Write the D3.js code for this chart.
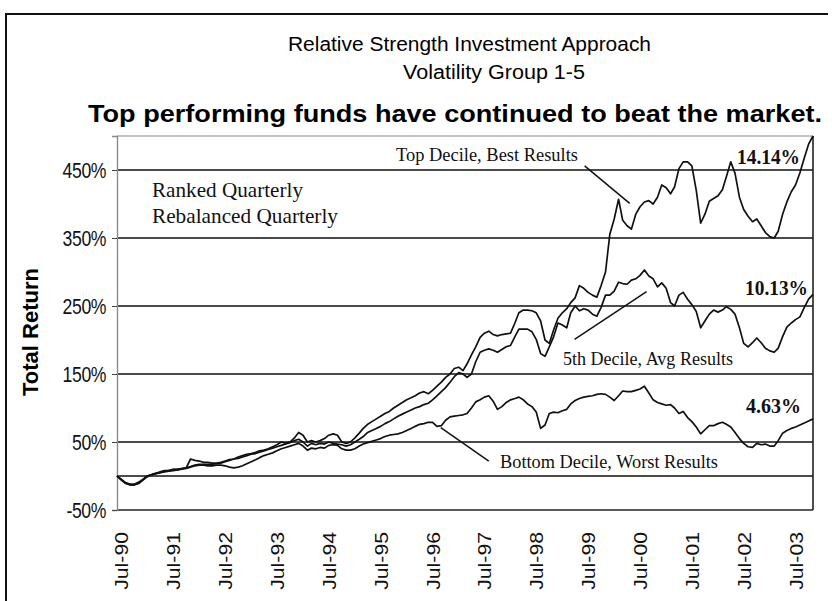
<!DOCTYPE html>
<html>
<head>
<meta charset="utf-8">
<script src="https://cdn.jsdelivr.net/npm/d3@7"></script>
<style>
  body { margin: 0; background: #fff; }
  svg { display: block; }
</style>
</head>
<body>
<div id="vis"></div>
<script>
// monthly total return (%) from Jun-90 to Nov-03
const months = d3.timeMonth.range(new Date(1990, 5, 1), new Date(2003, 11, 1));

const topDecile = [
  0, -5, -10, -13, -13, -10, -5, 0, 2, 4, 6, 8,
  8, 10, 9, 11, 12, 25, 23, 22, 20, 20, 19, 19,
  20, 22, 24, 25, 28, 30, 32, 33, 35, 37, 38, 40,
  43, 46, 50, 48, 50, 56, 64, 60, 50, 52, 50, 52,
  55, 60, 62, 60, 50, 48, 50, 56, 63, 70, 76, 80,
  84, 88, 92, 95, 100, 104, 108, 112, 115, 118, 122, 124,
  121, 126, 132, 138, 145, 150, 158, 160, 155, 165, 178, 190,
  204, 210, 213, 208, 206, 208, 209, 210, 225, 240, 244, 244,
  243, 240, 228, 200, 195, 215, 232, 240, 246, 255, 262, 280,
  276, 270, 266, 263, 280, 300, 355, 378, 407, 376, 368, 363,
  385, 396, 403, 405, 400, 410, 428, 424, 415, 425, 452, 462,
  462, 456, 420, 372, 385, 404, 408, 412, 421, 440, 462, 445,
  410, 392, 382, 374, 378, 368, 358, 352, 350, 360, 385, 403,
  418, 428, 446, 468, 488, 500
];

const fifthDecile = [
  0, -5, -10, -12, -12, -9, -5, 0, 2, 4, 5, 7,
  8, 9, 10, 11, 12, 14, 16, 17, 17, 17, 17, 18,
  19, 21, 23, 25, 26, 28, 30, 32, 33, 35, 37, 39,
  41, 43, 45, 47, 49, 52, 54, 50, 44, 48, 46, 48,
  47, 50, 48, 47, 46, 44, 46, 50, 54, 58, 64, 67,
  70, 73, 77, 80, 84, 88, 91, 94, 97, 100, 102, 105,
  107, 112, 118, 124, 130, 138, 146, 152, 150, 145, 150, 168,
  182, 185, 187, 185, 182, 186, 190, 192, 205, 216, 216, 216,
  212, 201, 180, 176, 190, 205, 225, 222, 218, 240, 250, 243,
  246, 244, 238, 235, 248, 266, 266, 272, 285, 283, 282, 288,
  290, 295, 303, 294, 290, 278, 284, 276, 255, 250, 266, 270,
  260, 252, 242, 218, 228, 238, 244, 241, 244, 249, 245, 238,
  218, 195, 190, 196, 203, 196, 188, 184, 182, 188, 205, 219,
  225, 230, 234, 248, 260, 267
];

const bottomDecile = [
  0, -6, -11, -13, -13, -11, -6, -1, 2, 3, 5, 6,
  7, 8, 9, 10, 11, 13, 15, 16, 16, 15, 15, 16,
  16, 15, 13, 12, 13, 15, 18, 21, 24, 27, 30, 32,
  34, 37, 40, 42, 44, 46, 48, 44, 38, 41, 40, 42,
  41, 45, 46, 45, 40, 38, 38, 40, 44, 47, 49, 51,
  53, 55, 58, 60, 61, 62, 64, 67, 70, 73, 76, 77,
  79, 79, 73, 74, 82, 87, 88, 89, 90, 92, 100, 109,
  112, 116, 118, 110, 98, 102, 108, 112, 114, 116, 112, 106,
  102, 94, 70, 75, 92, 94, 93, 96, 98, 106, 111, 114,
  116, 117, 118, 120, 121, 120, 116, 111, 118, 125, 124, 124,
  126, 128, 132, 122, 112, 108, 106, 104, 105, 100, 92, 95,
  86, 80, 72, 62, 68, 74, 74, 77, 79, 76, 72, 64,
  55, 48, 43, 42, 48, 46, 47, 44, 44, 52, 63, 67,
  70, 72, 75, 78, 81, 84
];

const xTickDates = d3.range(1990, 2004).map(yr => new Date(yr, 6, 1));
const yTickValues = [-50, 50, 150, 250, 350, 450];
const gridValues = [0, 50, 150, 250, 350, 450];

// annualised returns shown at the right end
const endLabels = ["14.14%", "10.13%", "4.63%"];

const width = 832, height = 601;

let svg = d3
  .select("#vis")
  .append("svg")
  .attr("width", width)
  .attr("height", height)
  .style("background-color", "white");

// outer frame (top and left edges only)
svg.append("path")
  .attr("d", "M6,601V14H828")
  .attr("fill", "none")
  .attr("stroke", "#111")
  .attr("stroke-width", 2);

// titles
svg.append("text")
  .attr("x", 288).attr("y", 51)
  .attr("textLength", 363).attr("lengthAdjust", "spacingAndGlyphs")
  .style("font-family", "Liberation Sans, Arial, sans-serif")
  .style("font-size", "20px")
  .text("Relative Strength Investment Approach");

svg.append("text")
  .attr("x", 403).attr("y", 79)
  .attr("textLength", 182).attr("lengthAdjust", "spacingAndGlyphs")
  .style("font-family", "Liberation Sans, Arial, sans-serif")
  .style("font-size", "20px")
  .text("Volatility Group 1-5");

svg.append("text")
  .attr("x", 88).attr("y", 122)
  .attr("textLength", 734).attr("lengthAdjust", "spacingAndGlyphs")
  .style("font-family", "Liberation Sans, Arial, sans-serif")
  .style("font-size", "24px")
  .style("font-weight", "bold")
  .text("Top performing funds have continued to beat the market.");

// scales
let x = d3.scaleTime()
  .domain([months[0], months[months.length - 1]])
  .range([117, 813]);

let y = d3.scaleLinear()
  .domain([-50, 500])
  .range([510, 136]);

// gridlines
svg.append("g")
  .selectAll("line")
  .data(gridValues)
  .join("line")
  .attr("x1", x.range()[0])
  .attr("x2", x.range()[1])
  .attr("y1", d => y(d))
  .attr("y2", d => y(d))
  .attr("stroke", "#111")
  .attr("stroke-width", 1.5);

// plot frame: grey top/left, black right/bottom
svg.append("line")
  .attr("x1", 117).attr("x2", 813).attr("y1", y(500)).attr("y2", y(500))
  .attr("stroke", "#8a8a8a").attr("stroke-width", 1.2);
svg.append("line")
  .attr("x1", 813).attr("x2", 813).attr("y1", y(500)).attr("y2", y(-50))
  .attr("stroke", "#222").attr("stroke-width", 1.6);
svg.append("line")
  .attr("x1", 117).attr("x2", 813).attr("y1", y(-50)).attr("y2", y(-50))
  .attr("stroke", "#222").attr("stroke-width", 1.6);

// y axis
let yAxis = svg.append("g")
  .attr("transform", "translate(117,0)")
  .call(d3.axisLeft(y).tickValues(yTickValues).tickSize(5).tickFormat(d => d + "%"));
yAxis.select(".domain").attr("stroke", "#8a8a8a").attr("stroke-width", 1.4);
yAxis.selectAll(".tick line").attr("stroke", "#444");
yAxis.selectAll(".tick text")
  .attr("x", 0)
  .attr("dy", "0.34em")
  .attr("transform", "translate(-11,0) scale(0.8,1)")
  .style("text-anchor", "end")
  .style("font-family", "Liberation Sans, Arial, sans-serif")
  .style("font-size", "22px")
  .style("letter-spacing", "-0.5px")
  .attr("fill", "#111");

// x axis labels, rotated
let xAxis = svg.append("g")
  .attr("transform", "translate(0,510)")
  .call(d3.axisBottom(x).tickValues(xTickDates).tickSize(0).tickFormat(d3.timeFormat("%b-%y")));
xAxis.select(".domain").remove();
xAxis.selectAll(".tick text")
  .attr("y", 0)
  .attr("x", -22 / 1.18)
  .attr("dy", "0.36em")
  .attr("transform", "rotate(-90) scale(1.18,1)")
  .style("text-anchor", "end")
  .style("font-family", "Liberation Sans, Arial, sans-serif")
  .style("font-size", "18px")
  .attr("fill", "#111");

// y axis title
svg.append("text")
  .attr("transform", "translate(38,332) rotate(-90)")
  .style("text-anchor", "middle")
  .style("font-family", "Liberation Sans, Arial, sans-serif")
  .style("font-size", "22px")
  .style("font-weight", "bold")
  .text("Total Return");

// the three decile lines
const line = d3.line()
  .x((d, i) => x(months[i]))
  .y(d => y(d));

[topDecile, fifthDecile, bottomDecile].forEach(series => {
  svg.append("path")
    .datum(series)
    .attr("fill", "none")
    .attr("stroke", "#111")
    .attr("stroke-width", 1.7)
    .attr("stroke-linejoin", "round")
    .attr("d", line);
});

// leader lines from the labels to the curves (data coordinates)
const leaders = [
  [[new Date(1999, 5, 7), 456], [new Date(2000, 3, 19), 401]],
  [[new Date(1999, 2, 28), 201], [new Date(2000, 7, 16), 271]],
  [[new Date(1996, 7, 28), 71], [new Date(1997, 7, 1), 22]]
];
svg.append("g")
  .selectAll("path")
  .data(leaders)
  .join("path")
  .attr("d", d3.line().x(d => x(d[0])).y(d => y(d[1])))
  .attr("stroke", "#111")
  .attr("stroke-width", 1.5)
  .attr("fill", "none");

// serif annotations
function note(txt, px, py, size, bold, len) {
  let t = svg.append("text")
    .attr("x", px).attr("y", py)
    .style("font-family", "Liberation Serif, Times New Roman, serif")
    .style("font-size", size + "px")
    .style("font-weight", bold ? "bold" : "normal")
    .attr("fill", "#111")
    .text(txt);
  if (len) t.attr("textLength", len).attr("lengthAdjust", "spacingAndGlyphs");
}

note("Ranked Quarterly", 152, 197, 21, false, 151);
note("Rebalanced Quarterly", 152, 223, 21, false, 186);
note("Top Decile, Best Results", 396, 161, 18, false, 182);
note("5th Decile, Avg Results", 563, 365, 18, false, 170);
note("Bottom Decile, Worst Results", 500, 468, 18, false, 218);
note(endLabels[0], 737, 164, 20, true, 63);
note(endLabels[1], 745, 295, 20, true, 63);
note(endLabels[2], 746, 413, 20, true, 55);
</script>
</body>
</html>
